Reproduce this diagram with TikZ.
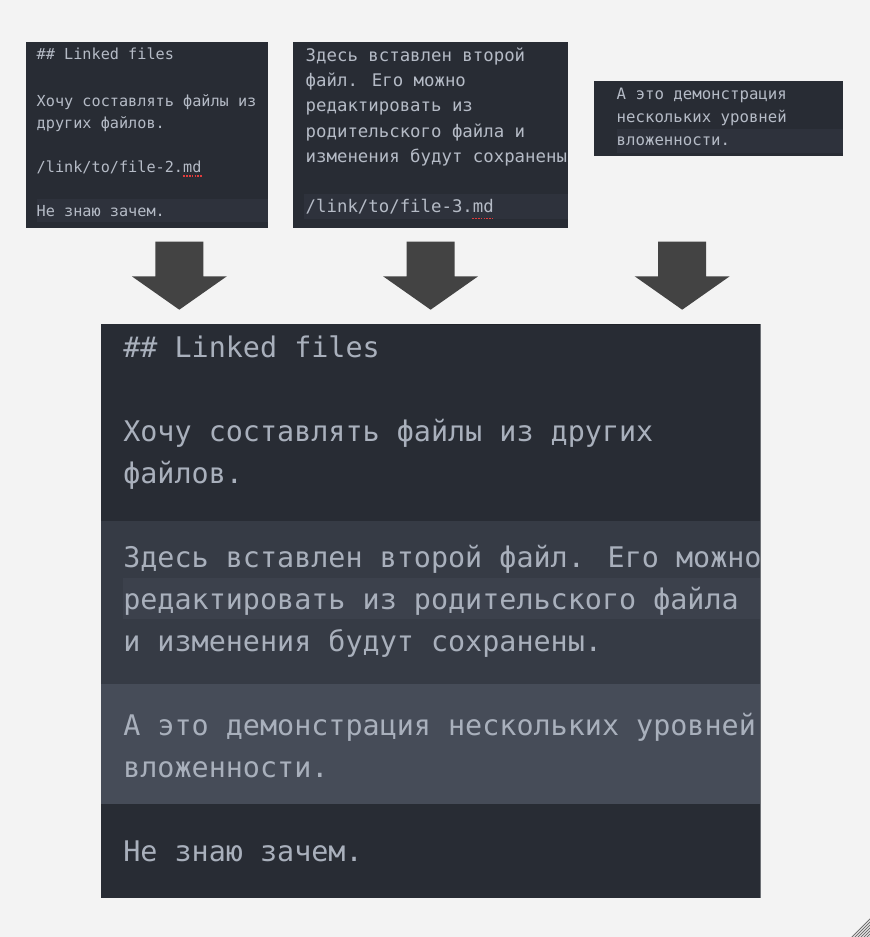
\documentclass[tikz,border=0pt]{standalone}
\usepackage{fontspec}
\newfontfamily\codefont{DejaVu Sans Mono}
\definecolor{pagebg}{HTML}{F3F3F3}
\definecolor{editorbg}{HTML}{282C34}
\definecolor{cursorline}{HTML}{2E323C}
\definecolor{bandtwo}{HTML}{363B45}
\definecolor{bandtwohl}{HTML}{3C414C}
\definecolor{bandthree}{HTML}{464C58}
\definecolor{codetext}{HTML}{A9B0BC}
\definecolor{smalltext}{HTML}{B5BBC6}
\definecolor{arrowgray}{HTML}{434343}
\definecolor{spellred}{HTML}{E03C3C}
\definecolor{edgegray}{HTML}{6E7176}
\definecolor{topedge}{HTML}{1F2228}
\definecolor{gripgray}{HTML}{707070}
\begin{document}
\begin{tikzpicture}[x=1pt,y=-1pt,
  codeline/.style={anchor=base west,inner sep=0pt,outer sep=0pt,text=codetext},
  smallA/.style={codeline,text=smalltext,font=\codefont\fontsize{15.2}{18}\selectfont},
  smallB/.style={codeline,text=smalltext,font=\codefont\fontsize{17.36}{20}\selectfont},
  smallC/.style={codeline,text=smalltext,font=\codefont\fontsize{15.7}{18}\selectfont},
  bigtext/.style={codeline,font=\codefont\fontsize{28.4}{34}\selectfont},
  spell/.style={draw=spellred,line width=1.4pt,dash pattern=on 1.5pt off 1.3pt},
  blockarrow/.style={fill=arrowgray,draw=none}]
% page
\fill[pagebg] (0,0) rectangle (870,937);
\useasboundingbox (0,0) rectangle (870,937);

% ---------- box 1 ----------
\fill[editorbg] (26.3,42.3) rectangle (267.7,227.7);
\fill[cursorline] (36.7,199) rectangle (267.7,222.3);
\node[smallA] (a1) at (36.7,59.5) {\#\# Linked files};
\node[smallA] (a2) at (36.7,106) {Хочу составлять файлы из};
\node[smallA] (a3) at (36.7,128) {других файлов.};
\node[smallA] (a4) at (36.7,172) {/link/to/file-2.md};
\node[smallA] (a5) at (36.7,216.5) {Не знаю зачем.};
\draw[spell] (183.4,176) -- (201.8,176);

% ---------- box 2 ----------
\fill[editorbg] (293.3,42.3) rectangle (567.7,227.7);
\fill[cursorline] (304.3,194.3) rectangle (567.7,219.3);
\begin{scope}
\clip (293.3,42.3) rectangle (567.7,227.7);
\node[smallB] (b1) at (305.7,61.5) {Здесь вставлен второй};
\node[smallB] (b2) at (305.7,86.7) {файл. Его можно};
\node[smallB] (b3) at (305.7,111.9) {редактировать из};
\node[smallB] (b4) at (305.7,137.1) {родительского файла и};
\node[smallB] (b5) at (305.7,162.3) {изменения будут сохранены};
\node[smallB] (b6) at (305.7,212.7) {/link/to/file-3.md};
\end{scope}
\draw[spell] (472.4,218.4) -- (492.8,218.4);

% ---------- box 3 ----------
\fill[editorbg] (593.8,81.3) rectangle (842.7,156.3);
\fill[cursorline] (616.7,128.7) rectangle (842.7,153);
\node[smallC] (c1) at (616.7,99.5) {А это демонстрация};
\node[smallC] (c2) at (616.7,122.5) {нескольких уровней};
\node[smallC] (c3) at (616.7,145.5) {вложенности.};

% ---------- arrows ----------
\foreach \cx/\nm in {179.3/arrA,430.6/arrB,682.2/arrC}{
  \fill[blockarrow] ({\cx-24},241.7) -- ({\cx+24},241.7) -- ({\cx+24},276.3)
    -- ({\cx+47.5},276.3) -- (\cx,309.7) -- ({\cx-47.5},276.3)
    -- ({\cx-24},276.3) -- cycle;
  \coordinate (\nm) at (\cx,309.7);
}

% ---------- big box ----------
\fill[editorbg] (100.6,324) rectangle (760.5,898.3);
\fill[bandtwo] (100.6,521) rectangle (760.5,683.5);
\fill[bandtwohl] (123.3,577.5) rectangle (760.5,619.3);
\fill[bandthree] (100.6,683.5) rectangle (760.5,804.3);
\draw[topedge,line width=1.2pt] (430,324.6) -- (760.5,324.6);
\draw[edgegray,line width=1pt] (760.6,324) -- (760.6,898.3);
\node[bigtext] (d1) at (123.3,357) {\#\# Linked files};
\node[bigtext] (d2) at (123.3,441) {Хочу составлять файлы из других};
\node[bigtext] (d3) at (123.3,483) {файлов.};
\node[bigtext] (d4) at (123.3,567) {Здесь вставлен второй файл. Его можно};
\node[bigtext] (d5) at (123.3,609) {редактировать из родительского файла};
\node[bigtext] (d6) at (123.3,651) {и изменения будут сохранены.};
\node[bigtext] (d7) at (123.3,735) {А это демонстрация нескольких уровней};
\node[bigtext] (d8) at (123.3,777) {вложенности.};
\node[bigtext] (d9) at (123.3,861) {Не знаю зачем.};

% ---------- resize grip ----------
\begin{scope}
\clip (848,915) rectangle (870,937);
\foreach \k in {0,...,6}{
  \draw[gripgray,line width=0.9pt] ({851+3*\k},938) -- ({871},{918+3*\k});
}
\end{scope}
\end{tikzpicture}
\end{document}
